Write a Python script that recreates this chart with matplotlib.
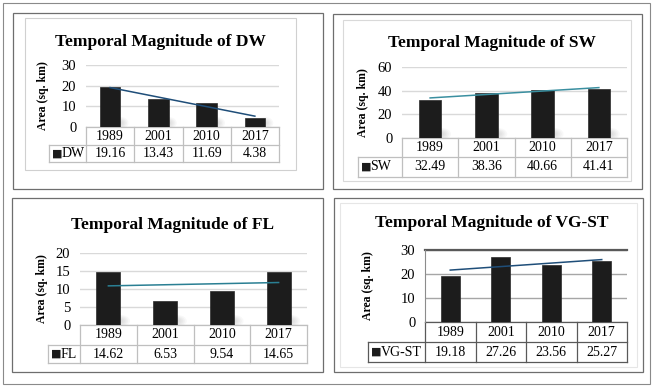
import matplotlib

matplotlib.use("Agg")

import matplotlib.pyplot as plt
import matplotlib.transforms as mtransforms
from matplotlib.patches import Ellipse, Rectangle
import numpy as np

W, H = 655, 386
plt.rcParams["font.family"] = ["Liberation Serif", "DejaVu Sans"]

years = ["1989", "2001", "2010", "2017"]
dw = [19.16, 13.43, 11.69, 4.38]
sw = [32.49, 38.36, 40.66, 41.41]
fl = [14.62, 6.53, 9.54, 14.65]
vg_st = [19.18, 27.26, 23.56, 25.27]

dw_ticks = [0, 10, 20, 30]
sw_ticks = [0, 20, 40, 60]
fl_ticks = [0, 5, 10, 15, 20]
vg_ticks = [0, 10, 20, 30]

fig = plt.figure(figsize=(W / 100, H / 100), dpi=100)


def px_rect(x0, y0, x1, y1):
    return [x0 / W, 1 - y1 / H, (x1 - x0) / W, (y1 - y0) / H]


def frame(x0, y0, x1, y1, color, lw):
    fig.patches.append(Rectangle((x0 / W, 1 - y1 / H), (x1 - x0) / W, (y1 - y0) / H,
                                 transform=fig.transFigure, fill=False,
                                 edgecolor=color, linewidth=lw))


def draw_panel(name, values, ticks, plot_px, legend_left, rows, title_xy, ylabel_x,
               trend_color, bar_w=0.4, grid_color="#d9d9d9", table_color="#bfbfbf",
               shadow=True, boxed=False):
    x0, y0, x1, y1 = plot_px
    ax = fig.add_axes(px_rect(x0, y0, x1, y1))
    ax.set_xlim(-0.5, len(values) - 0.5)
    ax.set_ylim(ticks[0], ticks[-1])
    ax.set_yticks(ticks)
    ax.set_xticks([])
    for s in ax.spines.values():
        s.set_visible(False)
    ax.tick_params(axis="y", length=0, pad=7, labelsize=10.5)
    ax.yaxis.grid(True, color=grid_color, linewidth=1)
    ax.set_axisbelow(True)
    if boxed:
        ax.spines["left"].set_visible(True)
        ax.spines["left"].set_color("#8c8c8c")
        ax.axhline(ticks[-1], color="#595959", linewidth=1.6, clip_on=False)

    idx = np.arange(len(values))
    ax.bar(idx, values, width=bar_w, color="#1c1c1c", edgecolor="#2a2a2a",
           linewidth=0.5, zorder=3)

    blend = mtransforms.blended_transform_factory(ax.transData, ax.transAxes)
    ph = y1 - y0
    if shadow:
        for i in idx:
            for k in range(5):
                ax.add_patch(Ellipse((i + bar_w / 2, 4 / ph), 0.34 - k * 0.06,
                                     (12 - k * 2) / ph, transform=blend,
                                     facecolor="#7a7a7a", alpha=0.05,
                                     edgecolor="none", zorder=2))

    slope, icpt = np.polyfit(idx, values, 1)
    ends = idx[[0, -1]]
    ax.plot(ends, slope * ends + icpt, color=trend_color, linewidth=1.1, zorder=4)

    # data table under the axis
    cw = (x1 - x0) / len(values)
    r1 = -rows[0] / ph
    r2 = r1 - rows[1] / ph
    xl = -0.5 - (x0 - legend_left) / cw
    right = len(values) - 0.5
    kw = dict(transform=blend, color=table_color, linewidth=0.9, clip_on=False)
    ax.plot([-0.5, right], [0, 0], **kw)
    ax.plot([xl, right], [r1, r1], **kw)
    ax.plot([xl, right], [r2, r2], **kw)
    ax.plot([xl, xl], [r1, r2], **kw)
    for c in np.arange(len(values) + 1) - 0.5:
        ax.plot([c, c], [0, r2], **kw)
    for i, (yr, v) in enumerate(zip(years, values)):
        ax.text(i, r1 / 2, yr, transform=blend, ha="center", va="center", fontsize=10)
        ax.text(i, (r1 + r2) / 2, f"{v:.2f}", transform=blend, ha="center",
                va="center", fontsize=10)
    ax.text(xl + 3 / cw, (r1 + r2) / 2, "\u25a0", transform=blend, ha="left",
            va="center", fontsize=8, family=["DejaVu Sans"], color="#1c1c1c")
    ax.text(xl + 12.5 / cw, (r1 + r2) / 2, name, transform=blend, ha="left",
            va="center", fontsize=10)

    fig.text(title_xy[0] / W, 1 - title_xy[1] / H, f"Temporal Magnitude of {name}",
             ha="center", va="center", fontsize=12.5, fontweight="bold")
    fig.text(ylabel_x / W, 1 - (y0 + y1) / 2 / H, "Area (sq. km)", rotation=90,
             ha="center", va="center", fontsize=8.5, fontweight="bold")
    return ax


# outer frame and panel borders
frame(3, 3, 650, 384, "#8a8a8a", 0.8)
frame(13, 13, 323, 189, "#6e6e6e", 0.9)
frame(333, 14, 642, 189, "#6e6e6e", 0.9)
frame(12, 198, 323, 372, "#6e6e6e", 0.9)
frame(334, 198, 643, 372, "#6e6e6e", 0.9)
frame(25, 18, 296, 170, "#d0d0d0", 0.8)
frame(343, 20, 631, 181, "#d9d9d9", 0.8)
frame(340, 203, 637, 367, "#e6e6e6", 0.8)

draw_panel("DW", dw, dw_ticks, (86, 65, 279, 127), 49, (18, 17), (160, 42), 43,
           "#1f4e79", bar_w=0.42)
draw_panel("SW", sw, sw_ticks, (402, 67, 627, 138), 358, (19, 20), (492, 43), 363,
           "#3a8fa0", bar_w=0.4)
draw_panel("FL", fl, fl_ticks, (80, 253, 307, 325), 48, (20, 18), (173, 225), 42,
           "#2a7f93", bar_w=0.42)
draw_panel("VG-ST", vg_st, vg_ticks, (425, 250, 627, 322), 368, (20, 20), (492, 223),
           368, "#1f4e79", bar_w=0.37, grid_color="#a6a6a6", table_color="#595959",
           shadow=False, boxed=True)

fig.savefig("out.png", dpi=100)
